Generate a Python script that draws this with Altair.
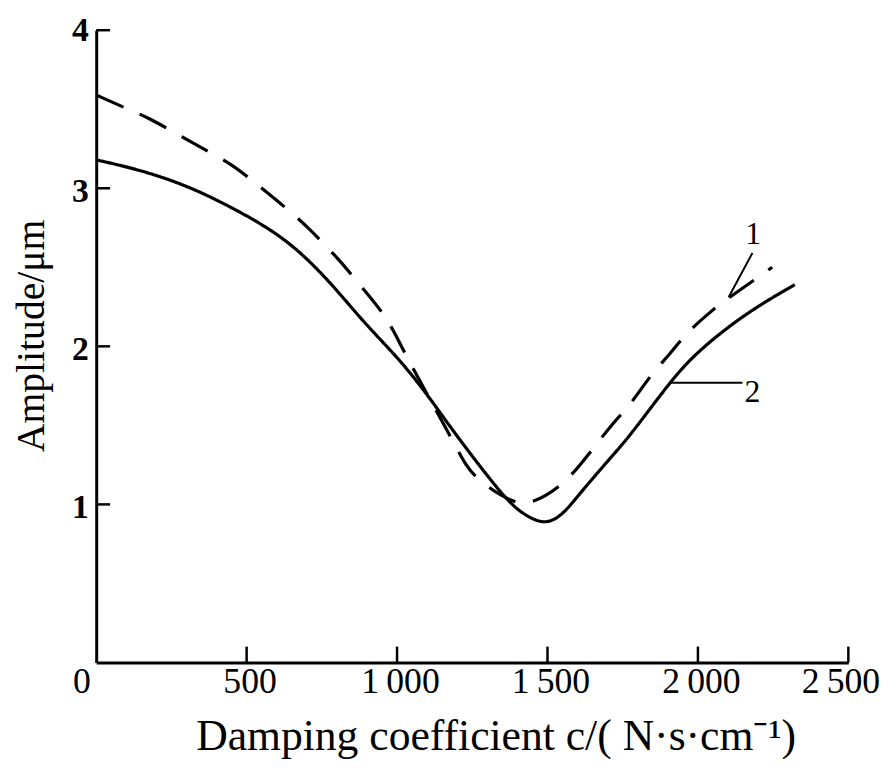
import altair as alt
import pandas as pd

# ---- data ----
x_tick_values = [0, 500, 1000, 1500, 2000, 2500]
x_tick_marks = [500, 1000, 1500, 2000, 2500]
y_tick_values = [1, 2, 3, 4]

# curve 1 (dashed)
c1_x = [0, 106, 171, 290, 374, 452, 518, 635, 706, 812, 858, 943, 989, 1032,
        1181, 1229, 1277, 1382, 1446, 1543, 1605, 1671, 1720, 1780, 1839, 1911,
        1964, 2049, 2082, 2247]
c1_y = [3.59, 3.50, 3.45, 3.32, 3.23, 3.15, 3.05, 2.87, 2.75, 2.54, 2.43, 2.24,
        2.10, 1.93, 1.42, 1.24, 1.14, 1.01, 1.00, 1.11, 1.24, 1.40, 1.52, 1.64,
        1.81, 1.96, 2.09, 2.23, 2.28, 2.50]

# curve 2 (solid)
c2_x = [0, 139, 300, 461, 635, 777, 894, 1013, 1118, 1172, 1363, 1427, 1490,
        1549, 1599, 1707, 1773, 1905, 1993, 2158, 2322]
c2_y = [3.18, 3.12, 3.02, 2.87, 2.68, 2.41, 2.14, 1.91, 1.65, 1.50, 1.02, 0.93,
        0.87, 0.93, 1.05, 1.29, 1.43, 1.77, 1.96, 2.21, 2.39]

# curve labels and leader lines
lab_text = ["1", "2"]
lab_x = [2184, 2181]
lab_y = [2.71, 1.71]
lead_x = [2181, 1905]
lead_y = [2.59, 1.77]
lead_x2 = [2102, 2148]
lead_y2 = [2.31, 1.77]

X_TITLE = "Damping coefficient c/( N·s·cm⁻¹)"
Y_TITLE = "Amplitude/μm"

# ---- build tables ----
lines = pd.DataFrame({
    "c": c1_x + c2_x,
    "amp": c1_y + c2_y,
    "curve": ["1"] * len(c1_x) + ["2"] * len(c2_x),
})
xt = pd.DataFrame({"c": x_tick_marks})
yt = pd.DataFrame({"amp": y_tick_values})
leads = pd.DataFrame({"c": lead_x, "amp": lead_y, "c2": lead_x2, "amp2": lead_y2})
labs = pd.DataFrame({"c": lab_x, "amp": lab_y, "text": lab_text})

W, H = 759, 638
SERIF = "Liberation Serif"

xscale = alt.Scale(domain=[0, 2500], nice=False, zero=False)
yscale = alt.Scale(domain=[0, 4], nice=False, zero=False)

xaxis = alt.Axis(
    values=x_tick_values, ticks=False, tickSize=0, grid=False,
    domainColor="black", domainWidth=3,
    labelFont=SERIF, labelFontSize=36, labelColor="black", labelPadding=2,
    labelFlush=False, labelOverlap=False,
    labelExpr="replace(format(datum.value, ','), ',', '\u2009')",
    labelOffset={"condition": [{"test": "datum.value == 0", "value": -15},
                               {"test": "datum.value == 2500", "value": -8}],
                 "value": 3},
    title=X_TITLE, titleFont=SERIF, titleFontSize=44, titleFontWeight="normal",
    titleColor="black", titleX=403, titleY=88, titleAlign="center",
    titleBaseline="alphabetic", titleAnchor="start",
)
yaxis = alt.Axis(
    values=y_tick_values, ticks=False, tickSize=0, grid=False,
    domainColor="black", domainWidth=3,
    labelFont=SERIF, labelFontSize=34, labelFontWeight="bold", labelColor="black",
    labelPadding=8, labelOverlap=False, labelFlush=False,
    labelOffset={"condition": {"test": "datum.value == 4", "value": 0}, "value": 3},
    title=Y_TITLE, titleFont=SERIF, titleFontSize=40, titleFontWeight="normal",
    titleColor="black", titleAngle=270, titleX=-53, titleY=308,
    titleAlign="center", titleBaseline="alphabetic", titleAnchor="start",
)

X = lambda f: alt.X(f, scale=xscale, axis=xaxis, title=X_TITLE)
Y = lambda f: alt.Y(f, scale=yscale, axis=yaxis, title=Y_TITLE)

curves = alt.Chart(lines).mark_line(color="black", strokeWidth=3.2,
                                    interpolate="basis").encode(
    x=X("c:Q"),
    y=Y("amp:Q"),
    detail="curve:N",
    strokeDash=alt.StrokeDash("curve:N",
                              scale=alt.Scale(domain=["1", "2"],
                                              range=[[30, 18], [1, 0]]),
                              legend=None),
)

xticks = alt.Chart(xt).mark_rule(color="black", strokeWidth=2.5).encode(
    x=X("c:Q"),
    y=alt.value(H), y2=alt.value(H - 16),
)
yticks = alt.Chart(yt).mark_rule(color="black", strokeWidth=2.5).encode(
    y=Y("amp:Q"),
    x=alt.value(0), x2=alt.value(14),
)
leaders = alt.Chart(leads).mark_rule(color="black", strokeWidth=2).encode(
    x=X("c:Q"), x2="c2:Q",
    y=Y("amp:Q"), y2="amp2:Q",
)
texts = alt.Chart(labs).mark_text(font=SERIF, fontSize=32, color="black",
                                  align="center", baseline="middle").encode(
    x=X("c:Q"),
    y=Y("amp:Q"),
    text="text:N",
)

chart = alt.layer(curves, xticks, yticks, leaders, texts).properties(
    width=W, height=H,
    autosize=alt.AutoSizeParams(type="none"),
    padding={"left": 89, "top": 19, "right": 39, "bottom": 94},
    background="white",
).configure_view(stroke=None)

chart.save("out.html", embed_options={"renderer": "svg", "actions": False})
